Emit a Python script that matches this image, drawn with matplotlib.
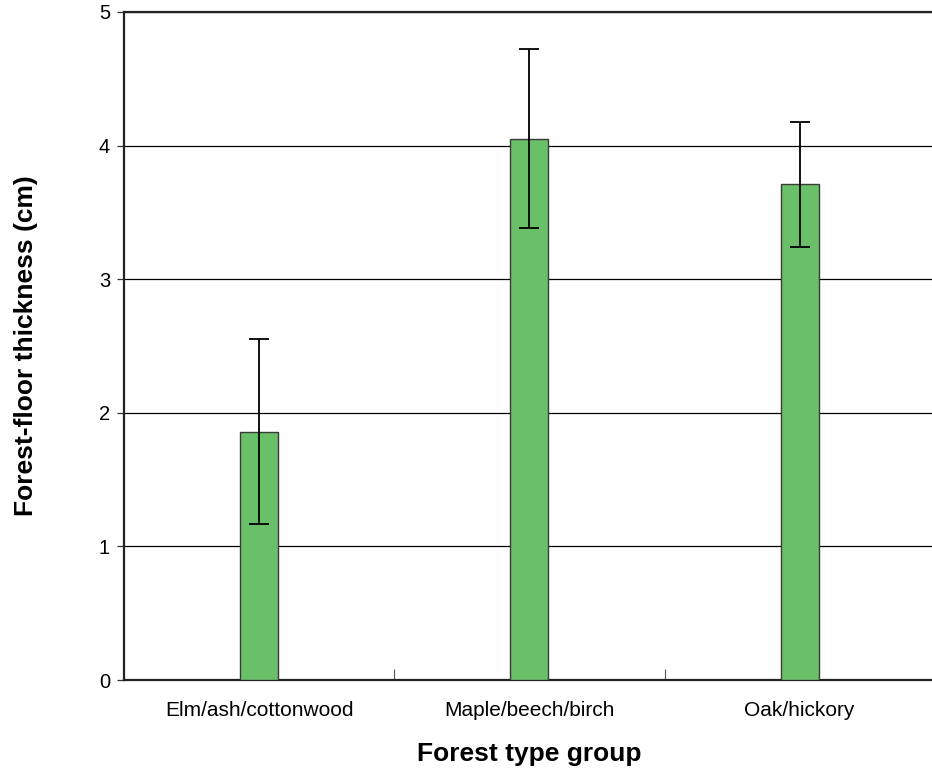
import numpy as np
import matplotlib
matplotlib.use("Agg")
import matplotlib.pyplot as plt

plt.rcParams['font.family'] = ['Liberation Sans', 'DejaVu Sans']

# -------------------------
# Data
# -------------------------
groups = ["Elm/ash/cottonwood", "Maple/beech/birch", "Oak/hickory"]
thickness = [1.86, 4.05, 3.71]
errors = [0.69, 0.67, 0.47]

# -------------------------
# Figure
# -------------------------
fig = plt.figure(figsize=(9.32, 7.74), dpi=100)
ax = fig.add_axes([0.133, 0.1214, 0.870, 0.8631])

x = np.arange(len(groups))

ax.bar(
    x,
    thickness,
    width=0.14,
    color="#6abf69",
    edgecolor="#3a3a3a",
    linewidth=1.0,
    zorder=3
)

ax.errorbar(
    x,
    thickness,
    yerr=errors,
    fmt="none",
    ecolor="black",
    elinewidth=1.3,
    capsize=7,
    capthick=1.3,
    zorder=4
)

ax.set_xlim(-0.5, 2.5)
ax.set_ylim(0, 5)
ax.set_yticks(range(6))

ax.yaxis.grid(True, color="black", linewidth=0.9, zorder=0)
ax.set_axisbelow(True)

ax.set_xticks(x)
ax.set_xticklabels(groups, fontsize=15)
ax.tick_params(axis="x", length=0, pad=15)
ax.set_xticks([0.5, 1.5], minor=True)
ax.tick_params(axis="x", which="minor", direction="in", length=8,
               width=0.8, color="#555555")
ax.tick_params(axis="y", length=5, width=0.9, pad=5, labelsize=14.5,
               color="#333333")

ax.spines["right"].set_visible(False)
for s in ["left", "bottom", "top"]:
    ax.spines[s].set_linewidth(1.6)
    ax.spines[s].set_color("#222222")

ax.set_xlabel("Forest type group", fontsize=19, fontweight="bold",
              labelpad=16)
ax.set_ylabel("Forest-floor thickness (cm)", fontsize=19,
              fontweight="bold", labelpad=44)

fig.savefig("out.png", dpi=100)
